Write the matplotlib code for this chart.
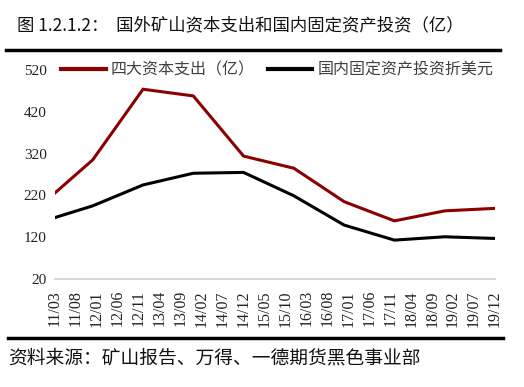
import matplotlib
matplotlib.use("Agg")
import matplotlib.pyplot as plt
from matplotlib.lines import Line2D

# 数据（从图上读出，年度数据点）
dates = ["2011-03", "2011-12", "2012-12", "2013-12", "2014-12",
         "2015-12", "2016-12", "2017-12", "2018-12", "2019-12"]
capex_big4 = [226, 305, 474, 458, 314, 285, 205, 159, 183, 189]
fai_usd = [167, 195, 245, 273, 275, 219, 149, 113, 121, 117]
yticks = [20, 120, 220, 320, 420, 520]

CJK = ["Noto Sans CJK SC", "DejaVu Sans"]
SERIF = ["Liberation Serif", "DejaVu Serif"]


def month_idx(s, base=(2011, 3)):
    y, m = map(int, s.split("-"))
    return (y - base[0]) * 12 + (m - base[1])


x = [month_idx(d) for d in dates]
tick_pos = list(range(0, 106, 5))
tick_lab = []
for t in tick_pos:
    y = 2011 + (3 - 1 + t) // 12
    m = (3 - 1 + t) % 12 + 1
    tick_lab.append(f"{y % 100:02d}/{m:02d}")

fig = plt.figure(figsize=(5.24, 3.87), dpi=100)
ax = fig.add_axes([55 / 524, 1 - 279 / 387, 440 / 524, 209 / 387])

ax.plot(x, capex_big4, color="#8B0000", lw=2.2, solid_joinstyle="miter")
ax.plot(x, fai_usd, color="black", lw=2.2, solid_joinstyle="miter")

ax.set_xlim(0, 105)
ax.set_ylim(20, 520)
ax.set_yticks(yticks)
ax.set_xticks(tick_pos)
ax.set_xticklabels(tick_lab, rotation=90, family=SERIF, fontsize=11.5, color="#222222")
ax.set_yticklabels([str(v) for v in yticks], family=SERIF, fontsize=11, color="#222222")
ax.tick_params(length=0, pad=6)
ax.tick_params(axis="x", pad=8)
for s in ["left", "right", "top"]:
    ax.spines[s].set_visible(False)
ax.spines["bottom"].set_color("#d0d0d0")
ax.spines["bottom"].set_linewidth(1.2)

handles = [Line2D([], [], color="#8B0000", lw=3),
           Line2D([], [], color="black", lw=3)]
leg = ax.legend(handles, ["四大资本支出（亿）", "国内固定资产投资折美元"],
                loc="upper left", bbox_to_anchor=(0.0, 1.07), ncol=2,
                frameon=False, prop={"family": CJK, "size": 11.5},
                handlelength=2.8, handletextpad=0.3, columnspacing=0.8,
                borderaxespad=0)
for t in leg.get_texts():
    t.set_color("#404040")

# 标题与来源
fig.text(17 / 524, 1 - 25 / 387, "图 1.2.1.2：  国外矿山资本支出和国内固定资产投资（亿）",
         family=CJK, fontsize=12.5, weight="medium", va="center", ha="left", color="#111111")
fig.add_artist(Line2D([6 / 524, 500 / 524], [1 - 50 / 387] * 2, color="black", lw=2.5))
fig.add_artist(Line2D([8 / 524, 503 / 524], [1 - 338 / 387] * 2, color="black", lw=2.5))
fig.text(8 / 524, 1 - 358 / 387, "资料来源：矿山报告、万得、一德期货黑色事业部",
         family=CJK, fontsize=13.5, weight="medium", va="center", ha="left", color="#111111")

fig.savefig("out.png", dpi=100)
